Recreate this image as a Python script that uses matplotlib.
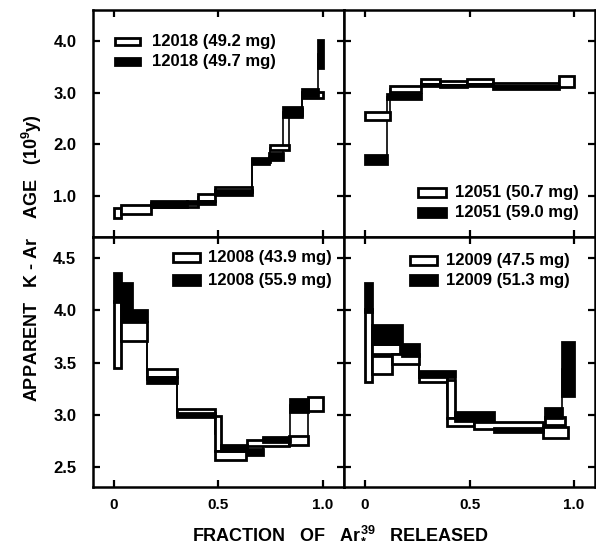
import matplotlib

matplotlib.use("Agg")
import matplotlib.pyplot as plt
from matplotlib.patches import Rectangle

plt.rcParams["font.family"] = ["Liberation Sans", "DejaVu Sans"]
plt.rcParams["font.weight"] = "bold"
plt.rcParams["mathtext.fontset"] = "custom"
plt.rcParams["mathtext.rm"] = "Liberation Sans:bold"
plt.rcParams["mathtext.bf"] = "Liberation Sans:bold"
plt.rcParams["mathtext.default"] = "bf"

# each step: left edge, right edge, age (1e9 y), half-height of box
# 12018
s12018_open_x0 = [0.0, 0.032, 0.175, 0.40, 0.485, 0.66, 0.745, 0.835, 0.90]
s12018_open_x1 = [0.032, 0.175, 0.40, 0.485, 0.66, 0.745, 0.835, 0.90, 1.0]
s12018_open_age = [0.66, 0.73, 0.82, 0.97, 1.12, 1.70, 1.93, 2.62, 2.96]
s12018_open_err = [0.10, 0.09, 0.04, 0.065, 0.04, 0.04, 0.05, 0.06, 0.06]
s12018_fill_x0 = [0.175, 0.35, 0.485, 0.66, 0.74, 0.81, 0.90, 0.975]
s12018_fill_x1 = [0.35, 0.485, 0.66, 0.74, 0.81, 0.90, 0.975, 1.0]
s12018_fill_age = [0.84, 0.87, 1.06, 1.66, 1.76, 2.62, 3.00, 3.75]
s12018_fill_err = [0.06, 0.03, 0.05, 0.05, 0.06, 0.10, 0.07, 0.27]

# 12051
s12051_open_x0 = [0.0, 0.12, 0.27, 0.36, 0.49, 0.61, 0.93]
s12051_open_x1 = [0.12, 0.27, 0.36, 0.49, 0.61, 0.93, 1.0]
s12051_open_age = [2.54, 3.07, 3.21, 3.18, 3.21, 3.16, 3.22]
s12051_open_err = [0.08, 0.06, 0.05, 0.04, 0.05, 0.03, 0.11]
s12051_fill_x0 = [0.0, 0.107, 0.27, 0.36, 0.49, 0.61]
s12051_fill_x1 = [0.107, 0.27, 0.36, 0.49, 0.61, 0.93]
s12051_fill_age = [1.70, 2.92, 3.14, 3.12, 3.15, 3.10]
s12051_fill_err = [0.09, 0.05, 0.02, 0.02, 0.02, 0.035]

# 12008
s12008_open_x0 = [0.0, 0.032, 0.16, 0.30, 0.485, 0.485, 0.635, 0.835, 0.93]
s12008_open_x1 = [0.032, 0.16, 0.30, 0.485, 0.51, 0.63, 0.835, 0.93, 1.0]
s12008_open_age = [3.77, 3.80, 3.40, 3.03, 2.82, 2.61, 2.73, 2.755, 3.105]
s12008_open_err = [0.32, 0.09, 0.035, 0.03, 0.17, 0.04, 0.03, 0.045, 0.07]
s12008_fill_x0 = [0.0, 0.032, 0.088, 0.16, 0.30, 0.51, 0.635, 0.715, 0.84]
s12008_fill_x1 = [0.032, 0.088, 0.16, 0.30, 0.485, 0.635, 0.715, 0.84, 0.93]
s12008_fill_age = [4.22, 4.08, 3.95, 3.335, 2.995, 2.68, 2.645, 2.765, 3.09]
s12008_fill_err = [0.14, 0.18, 0.05, 0.03, 0.02, 0.03, 0.025, 0.02, 0.065]

# 12009
s12009_open_x0 = [0.0, 0.035, 0.035, 0.13, 0.258, 0.393, 0.393, 0.52, 0.86, 0.853]
s12009_open_x1 = [0.035, 0.17, 0.13, 0.258, 0.393, 0.43, 0.52, 0.853, 0.955, 0.97]
s12009_open_age = [3.66, 3.63, 3.475, 3.535, 3.35, 3.15, 2.93, 2.895, 2.94, 2.83]
s12009_open_err = [0.35, 0.05, 0.085, 0.045, 0.04, 0.18, 0.04, 0.035, 0.04, 0.05]
s12009_fill_x0 = [0.0, 0.035, 0.178, 0.258, 0.43, 0.615, 0.862, 0.94]
s12009_fill_x1 = [0.035, 0.178, 0.258, 0.43, 0.615, 0.853, 0.94, 1.0]
s12009_fill_age = [4.12, 3.77, 3.62, 3.39, 2.985, 2.855, 3.02, 3.44]
s12009_fill_err = [0.14, 0.09, 0.055, 0.03, 0.045, 0.02, 0.05, 0.26]

legend_labels = [
    ["12018 (49.2 mg)", "12018 (49.7 mg)"],
    ["12051 (50.7 mg)", "12051 (59.0 mg)"],
    ["12008 (43.9 mg)", "12008 (55.9 mg)"],
    ["12009 (47.5 mg)", "12009 (51.3 mg)"],
]
top_yticks = [1.0, 2.0, 3.0, 4.0]
bottom_yticks = [2.5, 3.0, 3.5, 4.0, 4.5]
xticks = [0, 0.5, 1.0]
xtick_labels = ["0", "0.5", "1.0"]


def draw_series(ax, x0, x1, age, err, filled):
    face = "black" if filled else "white"
    z = 3 if filled else 2
    for a, b, y, e in zip(x0, x1, age, err):
        ax.add_patch(Rectangle((a, y - e), b - a, 2 * e, facecolor=face,
                               edgecolor="black", lw=2.0, zorder=z))
    for i in range(len(age) - 1):
        if abs(x1[i] - x0[i + 1]) < 1e-9:
            ax.plot([x1[i], x1[i]], [age[i], age[i + 1]], color="black", lw=1.2, zorder=1)


def draw_legend(ax, labels, open_box, fill_box, text_x, text_y):
    for (x, y, w, h), face, lab, ty in zip([open_box, fill_box], ["white", "black"], labels, text_y):
        ax.add_patch(Rectangle((x, y), w, h, transform=ax.transAxes, facecolor=face,
                               edgecolor="black", lw=2.0, zorder=5))
        ax.text(text_x, ty, lab, transform=ax.transAxes, fontsize=12, fontweight="bold",
                va="center", ha="left", zorder=5)


fig = plt.figure(figsize=(5.96, 5.55), dpi=100)
w = 251 / 596
ax_tl = fig.add_axes([93 / 596, 0.573, w, 0.409])
ax_tr = fig.add_axes([344 / 596, 0.573, w, 0.409])
ax_bl = fig.add_axes([93 / 596, 0.1225, w, 0.4505])
ax_br = fig.add_axes([344 / 596, 0.1225, w, 0.4505])

draw_series(ax_tl, s12018_open_x0, s12018_open_x1, s12018_open_age, s12018_open_err, False)
draw_series(ax_tl, s12018_fill_x0, s12018_fill_x1, s12018_fill_age, s12018_fill_err, True)
draw_series(ax_tr, s12051_open_x0, s12051_open_x1, s12051_open_age, s12051_open_err, False)
draw_series(ax_tr, s12051_fill_x0, s12051_fill_x1, s12051_fill_age, s12051_fill_err, True)
draw_series(ax_bl, s12008_open_x0, s12008_open_x1, s12008_open_age, s12008_open_err, False)
draw_series(ax_bl, s12008_fill_x0, s12008_fill_x1, s12008_fill_age, s12008_fill_err, True)
draw_series(ax_br, s12009_open_x0, s12009_open_x1, s12009_open_age, s12009_open_err, False)
draw_series(ax_br, s12009_fill_x0, s12009_fill_x1, s12009_fill_age, s12009_fill_err, True)

draw_legend(ax_tl, legend_labels[0], (0.088, 0.846, 0.10, 0.031), (0.088, 0.758, 0.10, 0.031),
            0.235, [0.862, 0.772])
draw_legend(ax_tr, legend_labels[1], (0.295, 0.176, 0.113, 0.038), (0.295, 0.086, 0.113, 0.04),
            0.442, [0.194, 0.106])
draw_legend(ax_bl, legend_labels[2], (0.319, 0.90, 0.107, 0.036), (0.319, 0.808, 0.107, 0.04),
            0.458, [0.918, 0.826])
draw_legend(ax_br, legend_labels[3], (0.263, 0.888, 0.107, 0.036), (0.263, 0.808, 0.107, 0.04),
            0.405, [0.906, 0.824])

for ax in [ax_tl, ax_tr, ax_bl, ax_br]:
    ax.set_xlim(-0.1, 1.1)
    ax.set_xticks(xticks)
    for sp in ax.spines.values():
        sp.set_linewidth(1.8)
    ax.tick_params(direction="in", length=5, width=1.6, top=True, right=True,
                   labelsize=11, pad=8)

for ax in [ax_tl, ax_tr]:
    ax.set_ylim(0.2, 4.6)
    ax.set_yticks(top_yticks)
    ax.tick_params(labelbottom=False)
for ax in [ax_bl, ax_br]:
    ax.set_ylim(2.31, 4.70)
    ax.set_yticks(bottom_yticks)
    ax.set_xticklabels(xtick_labels)
for ax in [ax_tr, ax_br]:
    ax.tick_params(labelleft=False)

ax_tl.set_yticklabels([f"{v:.1f}" for v in top_yticks])
ax_bl.set_yticklabels([f"{v:.1f}" for v in bottom_yticks])
for ax in [ax_tl, ax_bl]:
    ax.tick_params(axis="y", pad=12, labelsize=12)

fig.text(32 / 596, 1 - 258 / 555, "APPARENT   K - Ar    AGE   (10$^{9}$y)", rotation=90,
         ha="center", va="center", fontsize=13, fontweight="bold")
fig.text(340 / 596, 1 - 533 / 555, "FRACTION   OF   Ar$^{39}_{*}$   RELEASED",
         ha="center", va="center", fontsize=13, fontweight="bold")

fig.savefig("out.png", dpi=100)
